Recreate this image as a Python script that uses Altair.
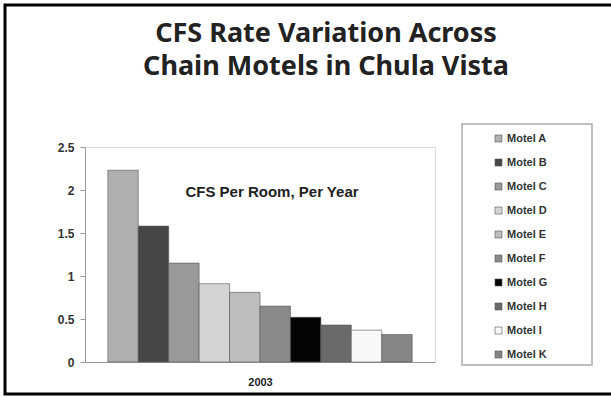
import altair as alt
import pandas as pd

motels = ["Motel A", "Motel B", "Motel C", "Motel D", "Motel E",
          "Motel F", "Motel G", "Motel H", "Motel I", "Motel K"]
cfs_per_room = [2.23, 1.58, 1.15, 0.91, 0.81, 0.65, 0.52, 0.43, 0.37, 0.32]
bar_colors = ["#b0b0b0", "#474747", "#999999", "#d4d4d4", "#bdbdbd",
              "#8a8a8a", "#050505", "#6a6a6a", "#f8f8f8", "#858585"]
y_ticks = [0, 0.5, 1, 1.5, 2, 2.5]
year_label = "2003"
inner_label = "CFS Per Room, Per Year"
title_lines = ["CFS Rate Variation Across", "Chain Motels in Chula Vista"]

df = pd.DataFrame({"motel": motels, "value": cfs_per_room})
one = pd.DataFrame({"a": [0]})

bars = alt.Chart(df).mark_bar(stroke="#555555", strokeWidth=0.6).encode(
    x=alt.X("motel:N", sort=motels,
            scale=alt.Scale(paddingInner=0, paddingOuter=0.75),
            axis=alt.Axis(labels=False, ticks=False, title=year_label,
                          titleFontSize=11, titleFont="Liberation Sans",
                          titleFontWeight="bold", titlePadding=14,
                          domainColor="#999999", titleColor="#222222")),
    y=alt.Y("value:Q", scale=alt.Scale(domain=[0, 2.5], nice=False),
            axis=alt.Axis(values=y_ticks, format="~g", title=None, grid=False,
                          labelFont="Liberation Sans", labelFontSize=12,
                          labelFontWeight="bold", labelColor="#333333",
                          tickSize=5, tickColor="#999999", labelPadding=6,
                          domainColor="#999999")),
    color=alt.Color("motel:N", sort=motels,
                    scale=alt.Scale(domain=motels, range=bar_colors),
                    legend=alt.Legend(orient="none", legendX=408, legendY=-14,
                                      title=None, symbolType="square", symbolSize=49,
                                      symbolStrokeColor="#555555", symbolStrokeWidth=0.6,
                                      labelFont="Liberation Sans", labelFontSize=11,
                                      labelFontWeight="bold", labelColor="#333333",
                                      labelOffset=3, rowPadding=12, padding=0)),
)

inner = alt.Chart(one).mark_text(
    text=inner_label, font="Liberation Sans", fontSize=15, fontWeight="bold",
    color="#222222", align="center", baseline="middle"
).encode(x=alt.value(187), y=alt.value(45))

title = alt.Chart(one).mark_text(
    text=title_lines, font="Noto Sans", fontSize=27, fontWeight="bold",
    color="#222222", align="center", baseline="alphabetic", lineHeight=33
).encode(x=alt.value(241), y=alt.value(-105))

legend_box = alt.Chart(one).mark_rect(
    fill=None, stroke="#aaaaaa", strokeWidth=1.5
).encode(x=alt.value(377), x2=alt.value(507), y=alt.value(-23), y2=alt.value(218))

frame = alt.Chart(one).mark_rect(
    fill=None, stroke="#000000", strokeWidth=3
).encode(x=alt.value(-80), x2=alt.value(560), y=alt.value(-142), y2=alt.value(247))

chart = alt.layer(bars, inner, title, legend_box, frame).properties(
    width=350, height=215,
    autosize=alt.AutoSizeParams(type="none"),
    padding={"left": 85, "top": 147, "right": 176, "bottom": 35},
).configure_view(stroke="#aaaaaa", strokeWidth=1.5).configure(background="white")

chart.save("out.html", embed_options={"renderer": "svg", "actions": False})
